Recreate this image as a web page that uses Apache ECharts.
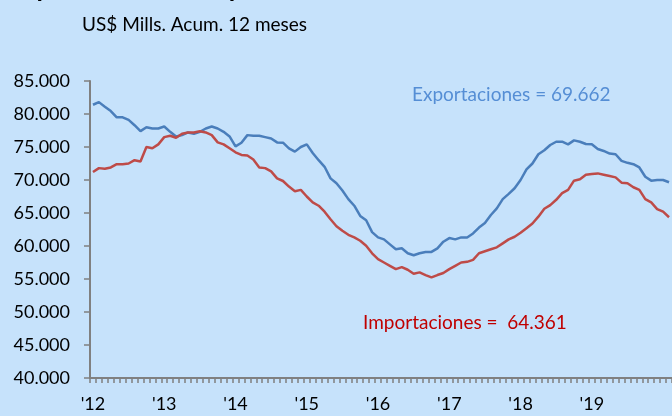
<!DOCTYPE html>
<html>
<head>
<meta charset="utf-8">
<script src="https://cdn.jsdelivr.net/npm/echarts@6/dist/echarts.min.js"></script>
<style>
  html, body { margin: 0; padding: 0; background: #C6E2FB; }
  #chart { width: 672px; height: 416px; }
</style>
</head>
<body>
<div id="chart"></div>
<script>
// years on the axis, monthly points from Jan 2012
const years = ["2012", "2013", "2014", "2015", "2016", "2017", "2018", "2019", "2020"];
const months = ["01", "02", "03", "04", "05", "06", "07", "08", "09", "10", "11", "12"];

// US$ millions, rolling 12 months
const exportaciones = [
  81400, 81800, 81100, 80450, 79500, 79500, 79100, 78300, 77400, 78000, 77800, 77800,
  78100, 77300, 76600, 76800, 77200, 77000, 77300, 77800, 78100, 77800, 77300, 76600,
  75100, 75650, 76800, 76700, 76700, 76500, 76300, 75700, 75650, 74800, 74300, 75000,
  75400, 74100, 73000, 72000, 70250, 69500, 68400, 67100, 66100, 64550, 63900, 62100,
  61300, 61000, 60250, 59500, 59650, 58900, 58600, 58900, 59100, 59100, 59650, 60650,
  61200, 61000, 61300, 61300, 61900, 62800, 63500, 64700, 65700, 67100, 67900, 68750,
  70000, 71600, 72500, 73900, 74500, 75300, 75800, 75800, 75400, 76000, 75800, 75450,
  75400, 74700, 74400, 74000, 73900, 72900, 72600, 72400, 71900, 70500, 69900, 70000,
  70000, 69662
];
const importaciones = [
  71200, 71800, 71700, 71900, 72400, 72400, 72500, 73000, 72800, 75000, 74800, 75400,
  76500, 76700, 76400, 77000, 77200, 77200, 77400, 77200, 76800, 75700, 75400, 74800,
  74200, 73800, 73700, 73100, 71900, 71800, 71300, 70250, 69850, 69000, 68300, 68500,
  67500, 66600, 66100, 65200, 64050, 63000, 62300, 61700, 61300, 60800, 60050, 58900,
  58000, 57500, 57000, 56500, 56800, 56400, 55800, 56000, 55600, 55250, 55600, 55900,
  56500, 57000, 57500, 57600, 57900, 58900, 59200, 59500, 59800, 60400, 61000, 61400,
  62000, 62700, 63400, 64450, 65650, 66200, 67000, 68000, 68500, 69900, 70100, 70800,
  70900, 71000, 70800, 70600, 70400, 69600, 69500, 68900, 68500, 67100, 66600, 65600,
  65200, 64361
];

const categories = [];
years.forEach(y => months.forEach(m => categories.push(y + "-" + m)));
categories.length = exportaciones.length;

const lastExp = exportaciones[exportaciones.length - 1];
const lastImp = importaciones[importaciones.length - 1];

function fmt(v) {
  return String(v).replace(/\B(?=(\d{3})+(?!\d))/g, ".");
}
function fmtDec(v) {
  return (v / 1000).toFixed(3);
}

const font = "Lato";
const axisGray = "#808080";

const chart = echarts.init(document.getElementById("chart"));
chart.setOption({
  backgroundColor: "#C6E2FB",
  animation: false,
  textStyle: { fontFamily: font },
  grid: { left: 90, right: -6, top: 81, bottom: 38, containLabel: false },
  graphic: [
    {
      type: "text",
      x: 8, y: 2,
      style: {
        text: "Exportaciones e Importaciones",
        font: "bold 26px Lato",
        fill: "#000",
        verticalAlign: "bottom"
      }
    },
    {
      type: "text",
      x: 82, y: 15,
      style: { text: "US$ Mills. Acum. 12 meses", font: "19px Lato", fill: "#000" }
    },
    {
      type: "text",
      x: 412, y: 85,
      style: { text: "Exportaciones = " + fmtDec(lastExp), font: "19px Lato", fill: "#558ED5" }
    },
    {
      type: "text",
      x: 363, y: 313,
      style: { text: "Importaciones =  " + fmtDec(lastImp), font: "19px Lato", fill: "#C00000" }
    }
  ],
  xAxis: {
    type: "category",
    data: categories,
    boundaryGap: true,
    axisLine: { show: true, lineStyle: { color: axisGray, width: 2 } },
    axisTick: {
      show: true,
      interval: 0,
      alignWithLabel: false,
      length: 5,
      lineStyle: { color: axisGray, width: 1.5 }
    },
    axisLabel: {
      interval: (i) => i % 12 === 0 && i < 96,
      margin: 17,
      fontSize: 18,
      fontFamily: font,
      color: "#000",
      formatter: (v) => "'" + v.slice(2, 4)
    },
    splitLine: { show: false }
  },
  yAxis: {
    type: "value",
    min: 40000,
    max: 85000,
    interval: 5000,
    axisLine: { show: true, lineStyle: { color: axisGray, width: 2 } },
    axisTick: { show: true, length: 6, lineStyle: { color: axisGray, width: 1.5 } },
    axisLabel: { margin: 20, fontSize: 18, fontFamily: font, color: "#000", formatter: fmt },
    splitLine: { show: false }
  },
  series: [
    {
      name: "Exportaciones",
      type: "line",
      data: exportaciones,
      symbol: "none",
      lineStyle: { color: "#4A7EBB", width: 2.5 },
      itemStyle: { color: "#4A7EBB" }
    },
    {
      name: "Importaciones",
      type: "line",
      data: importaciones,
      symbol: "none",
      lineStyle: { color: "#BE4B48", width: 2.5 },
      itemStyle: { color: "#BE4B48" }
    }
  ]
});
</script>
</body>
</html>
